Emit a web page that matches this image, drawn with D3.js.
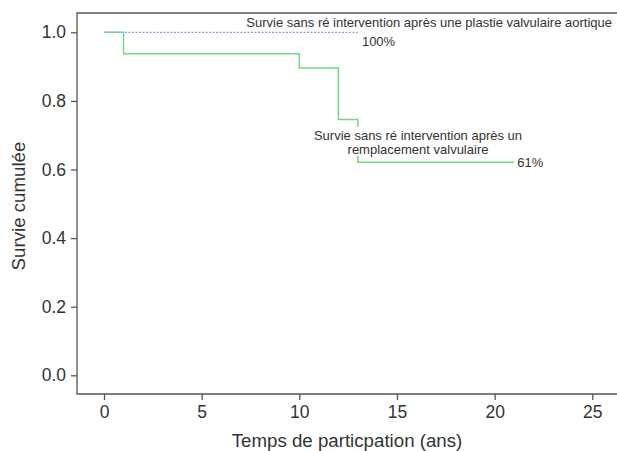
<!DOCTYPE html>
<html><head><meta charset="utf-8">
<script src="https://cdn.jsdelivr.net/npm/d3@7"></script>
<style>body{margin:0;background:#fff}svg{display:block}text{font-family:"Liberation Sans",Arial,sans-serif;fill:#333}</style>
</head><body><svg id="c" width="617" height="451"></svg>
<script>
const xTicks = [0, 5, 10, 15, 20, 25];
const yTicks = [0.0, 0.2, 0.4, 0.6, 0.8, 1.0];
const replaceTimes = [0, 1, 1, 10, 10, 12, 12, 13, 13, 21];
const replaceSurv  = [1, 1, 0.9375, 0.9375, 0.896, 0.896, 0.746, 0.746, 0.621, 0.621];
const plastyTimes = [0, 13];
const plastySurv  = [1, 1];
const labelPlasty = "Survie sans ré intervention après une plastie valvulaire aortique";
const labelPlastyPct = "100%";
const labelReplace = ["Survie sans ré intervention après un", "remplacement valvulaire"];
const labelReplacePct = "61%";
const xTitle = "Temps de particpation (ans)";
const yTitle = "Survie cumulée";

const svg = d3.select("#c");
const L = 77, T = 13, R = 640, B = 394;
const x = d3.scaleLinear().domain([0, 25]).range([104, 592.3]);
const y = d3.scaleLinear().domain([0, 1]).range([375.3, 32.3]);

svg.append("path").attr("d", `M${R},${T}H${L}V${B}H${R}`).attr("fill","none").attr("stroke","#555").attr("stroke-width",1.3);

const xa = svg.append("g").attr("transform", `translate(0,${B})`)
  .call(d3.axisBottom(x).tickValues(xTicks).tickSize(6).tickPadding(6).tickFormat(d3.format("d")));
const ya = svg.append("g").attr("transform", `translate(${L},0)`)
  .call(d3.axisLeft(y).tickValues(yTicks).tickSize(6).tickPadding(5).tickFormat(d3.format(".1f")));
[xa, ya].forEach(a => {
  a.select(".domain").remove();
  a.selectAll("line").attr("stroke","#555").attr("stroke-width",1.3);
  a.selectAll("text").style("font-size","17.5px").attr("fill","#333").style("font-family",'"Liberation Sans",Arial,sans-serif');
});

const line = d3.line().x(d => x(d[0])).y(d => y(d[1]));
svg.append("path").datum(d3.zip(plastyTimes, plastySurv)).attr("d", line)
  .attr("fill","none").attr("stroke","#6a86ea").attr("stroke-width",1).attr("stroke-dasharray","2,1.5");
svg.append("path").datum(d3.zip(replaceTimes, replaceSurv)).attr("d", line)
  .attr("fill","none").attr("stroke","#72d682").attr("stroke-width",1.5);

svg.append("text").attr("x", 612).attr("y", 27).attr("text-anchor","end").style("font-size","13px").text(labelPlasty);
svg.append("text").attr("x", x(13) + 4).attr("y", 46).style("font-size","13px").text(labelPlastyPct);
const lb = svg.append("g");
const bg = lb.append("rect").attr("fill","#fff");
labelReplace.forEach((t,i) => {
  lb.append("text").attr("x", 418).attr("y", 140 + i*14).attr("text-anchor","middle").style("font-size","13px").text(t);
});
bg.attr("x", 312).attr("y", 127).attr("width", 212).attr("height", 29);
svg.append("text").attr("x", x(21) + 3).attr("y", y(0.621) + 5).style("font-size","13px").text(labelReplacePct);

svg.append("text").attr("x", 347).attr("y", 447).attr("text-anchor","middle").style("font-size","18.7px").text(xTitle);
svg.append("text").attr("transform","translate(25,206) rotate(-90)").attr("text-anchor","middle").style("font-size","18.7px").text(yTitle);
</script></body></html>
